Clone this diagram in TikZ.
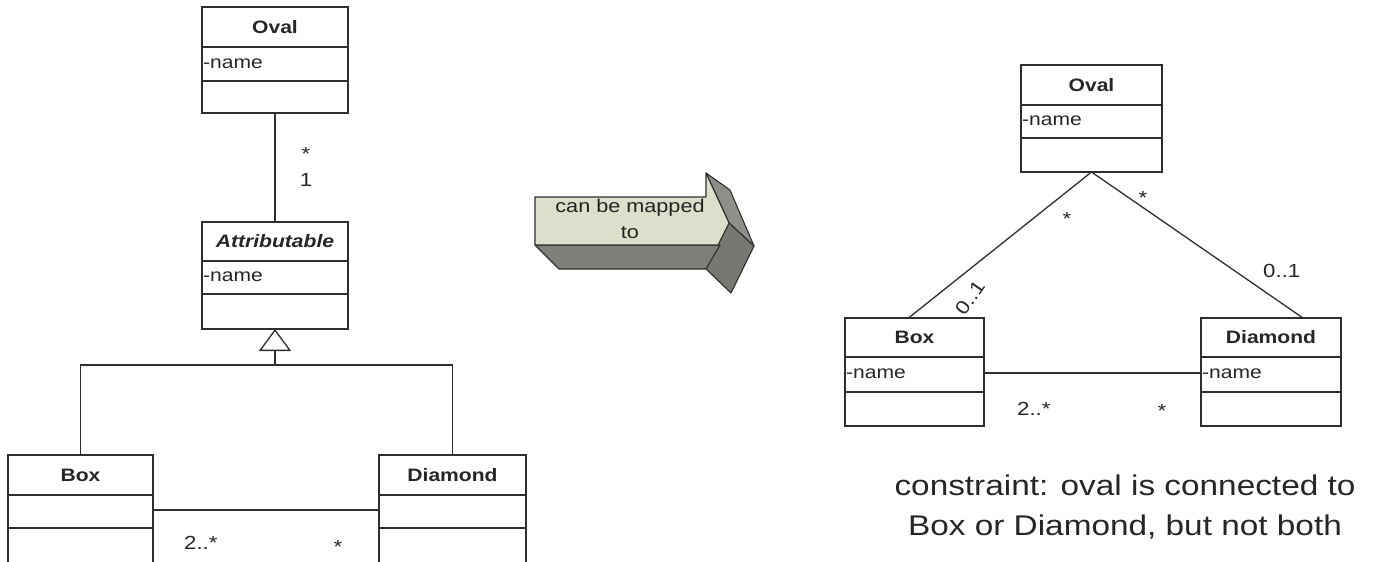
\documentclass[tikz,border=0pt]{standalone}
\usepackage{fontspec}
\setmainfont[FakeStretch=1.17]{Liberation Sans}
\usetikzlibrary{arrows.meta,calc}
\definecolor{ink}{HTML}{2E2E2E}
\definecolor{txt}{HTML}{262626}
\definecolor{arrfront}{HTML}{DCDFCB}
\definecolor{arrbottom}{HTML}{7E7F78}
\definecolor{arrupper}{HTML}{8E8F89}
\definecolor{arrlower}{HTML}{777872}
\tikzset{
  clsbox/.style={draw=ink, line width=1.3pt, inner sep=0pt, outer sep=0pt},
  clsline/.style={draw=ink, line width=1.3pt},
  clstitle/.style={inner sep=0pt, text=txt, font=\fontsize{18}{20}\selectfont\bfseries},
  clsattr/.style={inner sep=0pt, text=txt, font=\fontsize{18}{20}\selectfont},
  mult/.style={inner sep=0pt, text=txt, font=\fontsize{19}{21}\selectfont},
  conn/.style={draw=ink, line width=1.3pt},
  face/.style={draw=ink, line width=1.1pt, line join=round},
}
\newcommand\umlclass[9]{%
  \node[clsbox, minimum width={#4-#2}, minimum height={#7-#3}, anchor=north west] (#1) at (#2,#3) {};
  \draw[clsline] (#2,#5) -- (#4,#5);
  \draw[clsline] (#2,#6) -- (#4,#6);
  \node[clstitle] (#1-title) at ({(#2+#4)/2},{(#3+#5)/2}) {#8};
  \node[clsattr, anchor=base west] (#1-attr) at ({#2+1},{(#5+#6)/2+4}) {#9};
}
\begin{document}
\begin{tikzpicture}[x=1pt, y=-1pt]
\useasboundingbox (0,0) rectangle (1377,562);
\clip (0,0) rectangle (1377,562);

% ---------- left diagram ----------
\umlclass{ovalL}{202}{7}{348}{47}{81}{113}{Oval}{-name}
\umlclass{attrL}{202}{222}{348}{261}{294}{329}{\itshape Attributable}{-name}
\umlclass{boxL}{8}{455}{153}{495}{528}{575}{Box}{}
\umlclass{diaL}{379}{455}{526}{495}{528}{575}{Diamond}{}

\draw[conn] (ovalL.south) -- (attrL.north);
\node[mult, anchor=base] (mL1) at (306,160) {*};
\node[mult, anchor=base] (mL2) at (306,186) {1};

\coordinate (genj) at (275,365);
\draw[conn, -{Triangle[open, length=22pt, width=32pt, fill=white]}] (genj) -- (attrL.south);
\draw[conn] (boxL.north) |- (genj) -| (diaL.north);

\draw[conn] (boxL.east |- 0,510) -- (diaL.west |- 0,510);
\node[mult, anchor=base west] (mL3) at (184,549) {2..*};
\node[mult, anchor=base] (mL4) at (338,553) {*};

% ---------- mapping arrow ----------
\fill[arrupper, face] (706,173) -- (730,190) -- (754,246) -- (729,223) -- cycle;
\fill[arrlower, face] (729,223) -- (754,246) -- (731,293) -- (706,269) -- cycle;
\fill[arrbottom, face] (535,245) -- (720,245) -- (706,269) -- (559,269) -- cycle;
\fill[arrfront, face] (535,197) -- (706,197) -- (706,173) -- (729,223) -- (718,245) -- (535,245) -- cycle;
\node[inner sep=0pt, align=center, text=txt!90!black, font=\fontsize{18.5}{26}\selectfont] (maptxt) at (630,219) {can be mapped\\to};

% ---------- right diagram ----------
\umlclass{ovalR}{1021}{65}{1162}{105}{138}{172}{Oval}{-name}
\umlclass{boxR}{845}{318}{984}{357}{392}{426}{Box}{-name}
\umlclass{diaR}{1201}{318}{1341}{357}{392}{426}{Diamond}{-name}

\draw[conn] (ovalR.south) -- ([xshift=-6pt]boxR.north);
\draw[conn] (ovalR.south) -- ([xshift=32pt]diaR.north);
\draw[conn] (boxR.east |- 0,373) -- (diaR.west |- 0,373);

\node[mult, anchor=base] (mR1) at (1067,225) {*};
\node[mult, anchor=base] (mR2) at (1143,204) {*};
\node[mult, anchor=base west] (mR3) at (1263,277) {0..1};
\node[mult, rotate=55] (mR4) at (970,298) {0..1};
\node[mult, anchor=base west] (mR5) at (1017,415) {2..*};
\node[mult, anchor=base] (mR6) at (1162,417) {*};

\node[inner sep=0pt, align=center, text=txt, font=\fontsize{28.5}{40}\selectfont] (constr) at (1125,507)
  {constraint: oval is connected to\\Box or Diamond, but not both};
\end{tikzpicture}
\end{document}
